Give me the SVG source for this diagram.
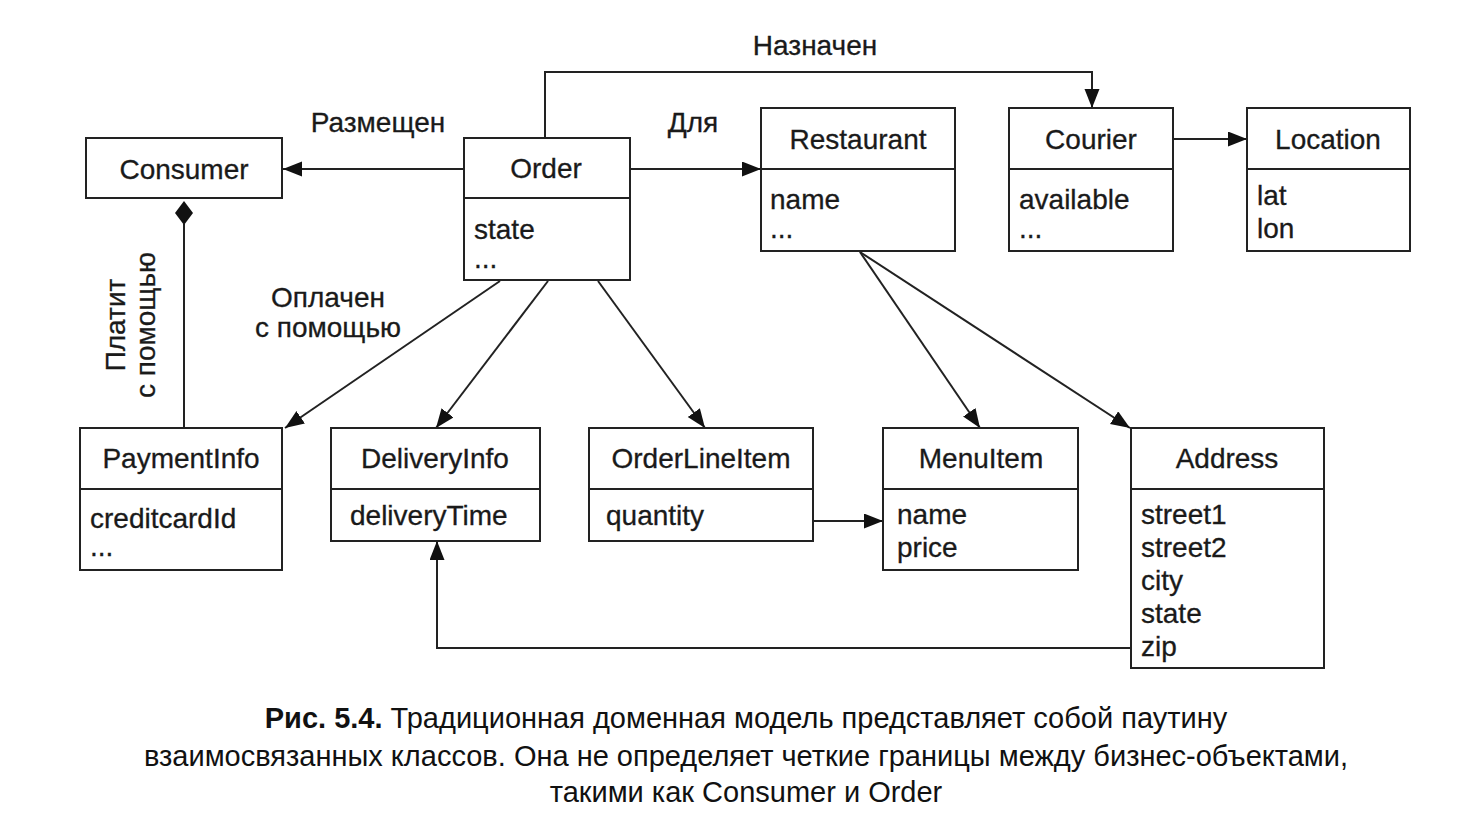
<svg xmlns="http://www.w3.org/2000/svg" width="1482" height="824" viewBox="0 0 1482 824">
<style>
.box{fill:#fff;stroke:#222;stroke-width:2}
.div{stroke:#222;stroke-width:2}
.t{font-family:"Liberation Sans",Arial,sans-serif;font-size:28px;fill:#1a1a1a;stroke:#1a1a1a;stroke-width:0.3}
.c{text-anchor:middle}
.ln{fill:none;stroke:#222;stroke-width:2}
.cap{font-family:"Liberation Sans",Arial,sans-serif;font-size:29px;fill:#111;text-anchor:middle}
</style>
<defs>
<marker id="ah" markerUnits="userSpaceOnUse" markerWidth="22" markerHeight="18" refX="19" refY="7.5" orient="auto">
<path d="M0,0 L19,7.5 L0,15 z" fill="#111"/>
</marker>
</defs>
<rect width="1482" height="824" fill="#fff"/>

<g id="connectors">
<line class="ln" x1="464" y1="169" x2="283" y2="169" marker-end="url(#ah)"/>
<line class="ln" x1="630" y1="169" x2="761" y2="169" marker-end="url(#ah)"/>
<polyline class="ln" points="545,138 545,72 1092,72 1092,108" marker-end="url(#ah)"/>
<line class="ln" x1="1173" y1="139" x2="1247" y2="139" marker-end="url(#ah)"/>
<line class="ln" x1="184" y1="224" x2="184" y2="428"/>
<path d="M184,201 L193,213 L184,225 L175,213 z" fill="#111"/>
<line class="ln" x1="500" y1="281" x2="285" y2="428" marker-end="url(#ah)"/>
<line class="ln" x1="548" y1="281" x2="436" y2="428" marker-end="url(#ah)"/>
<line class="ln" x1="598" y1="281" x2="705" y2="428" marker-end="url(#ah)"/>
<line class="ln" x1="860" y1="252" x2="980" y2="428" marker-end="url(#ah)"/>
<line class="ln" x1="860" y1="252" x2="1130" y2="428" marker-end="url(#ah)"/>
<line class="ln" x1="813" y1="521" x2="883" y2="521" marker-end="url(#ah)"/>
<polyline class="ln" points="1131,648 437,648 437,541" marker-end="url(#ah)"/>
<text class="t c" x="378" y="132">Размещен</text>
<text class="t c" x="693" y="132">Для</text>
<text class="t c" x="815" y="55">Назначен</text>
<text class="t c" x="328" y="307">Оплачен</text>
<text class="t c" x="328" y="337">с помощью</text>
<text class="t c" transform="translate(125,325) rotate(-90)">Платит</text>
<text class="t c" transform="translate(155,325) rotate(-90)">с помощью</text>
</g>

<g id="consumer">
<rect class="box" x="86" y="138" width="196" height="60"/>
<text class="t c" x="184" y="179">Consumer</text>
</g>
<g id="order">
<rect class="box" x="464" y="138" width="166" height="142"/>
<line class="div" x1="464" y1="198" x2="630" y2="198"/>
<text class="t c" x="546" y="178">Order</text>
<text class="t" x="474" y="239">state</text>
<text class="t" x="474" y="268">...</text>
</g>
<g id="restaurant">
<rect class="box" x="761" y="108" width="194" height="143"/>
<line class="div" x1="761" y1="169" x2="955" y2="169"/>
<text class="t c" x="858" y="149">Restaurant</text>
<text class="t" x="770" y="209">name</text>
<text class="t" x="770" y="238">...</text>
</g>
<g id="courier">
<rect class="box" x="1009" y="108" width="164" height="143"/>
<line class="div" x1="1009" y1="169" x2="1173" y2="169"/>
<text class="t c" x="1091" y="149">Courier</text>
<text class="t" x="1019" y="209">available</text>
<text class="t" x="1019" y="238">...</text>
</g>
<g id="location">
<rect class="box" x="1247" y="108" width="163" height="143"/>
<line class="div" x1="1247" y1="169" x2="1410" y2="169"/>
<text class="t c" x="1328" y="149">Location</text>
<text class="t" x="1257" y="205">lat</text>
<text class="t" x="1257" y="238">lon</text>
</g>
<g id="paymentinfo">
<rect class="box" x="80" y="428" width="202" height="142"/>
<line class="div" x1="80" y1="489" x2="282" y2="489"/>
<text class="t c" x="181" y="468">PaymentInfo</text>
<text class="t" x="90" y="528">creditcardId</text>
<text class="t" x="90" y="556">...</text>
</g>
<g id="deliveryinfo">
<rect class="box" x="331" y="428" width="209" height="113"/>
<line class="div" x1="331" y1="489" x2="540" y2="489"/>
<text class="t c" x="435" y="468">DeliveryInfo</text>
<text class="t" x="350" y="525">deliveryTime</text>
</g>
<g id="orderlineitem">
<rect class="box" x="589" y="428" width="224" height="113"/>
<line class="div" x1="589" y1="489" x2="813" y2="489"/>
<text class="t c" x="701" y="468">OrderLineItem</text>
<text class="t" x="606" y="525">quantity</text>
</g>
<g id="menuitem">
<rect class="box" x="883" y="428" width="195" height="142"/>
<line class="div" x1="883" y1="489" x2="1078" y2="489"/>
<text class="t c" x="981" y="468">MenuItem</text>
<text class="t" x="897" y="524">name</text>
<text class="t" x="897" y="557">price</text>
</g>
<g id="address">
<rect class="box" x="1131" y="428" width="193" height="240"/>
<line class="div" x1="1131" y1="489" x2="1324" y2="489"/>
<text class="t c" x="1227" y="468">Address</text>
<text class="t" x="1141" y="524">street1</text>
<text class="t" x="1141" y="557">street2</text>
<text class="t" x="1141" y="590">city</text>
<text class="t" x="1141" y="623">state</text>
<text class="t" x="1141" y="656">zip</text>
</g>

<g id="caption">
<text class="cap" x="746" y="728"><tspan font-weight="bold">Рис. 5.4.</tspan> Традиционная доменная модель представляет собой паутину</text>
<text class="cap" x="746" y="766">взаимосвязанных классов. Она не определяет четкие границы между бизнес-объектами,</text>
<text class="cap" x="746" y="802">такими как Consumer и Order</text>
</g>
</svg>
